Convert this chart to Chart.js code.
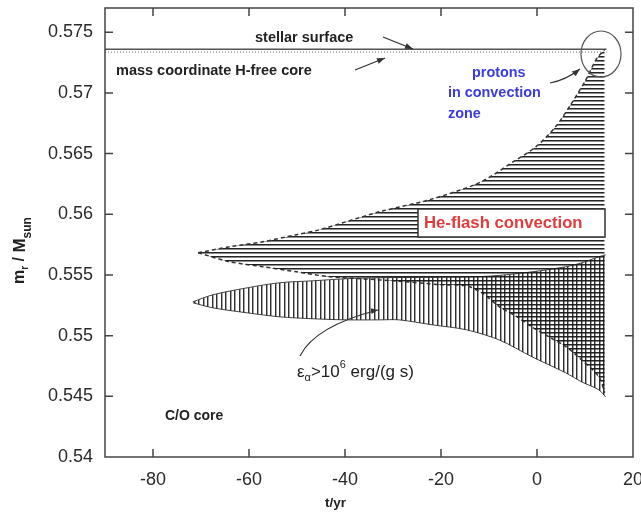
<!DOCTYPE html>
<html>
<head>
<meta charset="utf-8">
<script src="https://cdn.jsdelivr.net/npm/chart.js@4.4.0/dist/chart.umd.min.js"></script>
<style>html,body{margin:0;padding:0;background:#fff}canvas{display:block}</style>
</head>
<body>
<canvas id="c" width="641" height="514"></canvas>
<script>
// He-flash convection zone vs. time, hatched regions drawn as filled line pairs.
const FONT = "'Liberation Sans', Arial, Helvetica, sans-serif";

// tick values
const tTicks = [-80, -60, -40, -20, 0, 20];
const mTicks = [0.54, 0.545, 0.55, 0.555, 0.56, 0.565, 0.57, 0.575];

// He-flash convection zone: upper and lower boundary
const tHeTop = [-70.6, -64, -57.1, -50.1, -45.3, -32.8, -22.4, -12.0, -5.2, -0.2, 3.9, 7.3, 10.2, 12.3, 13.5, 14.1];
const mHeTop = [0.55683, 0.55733, 0.55774, 0.55832, 0.55873, 0.56021, 0.5612, 0.56261, 0.56426, 0.56558, 0.56723, 0.56921, 0.5711, 0.57275, 0.57333, 0.57358];
const tHeBot = [-70.6, -64, -57.1, -50.1, -43.2, -36.3, -29.3, -20, -14.7, -11.4, -7.9, -4.4, -1.0, 2.5, 6.0, 9.3, 12.9, 14.1];
const mHeBot = [0.55683, 0.55609, 0.55568, 0.55526, 0.55485, 0.55468, 0.5545, 0.5542, 0.5541, 0.5535, 0.5524, 0.5516, 0.5507, 0.5499, 0.5491, 0.548, 0.5466, 0.5453];

// region with eps_alpha > 1e6 erg/(g s)
const tEpsTop = [-71.7, -67.5, -60.4, -53.6, -46.7, -39.7, -32.8, -20, -10, -1.0, 6.0, 9.3, 12.9, 14.3];
const mEpsTop = [0.55279, 0.55337, 0.55394, 0.55436, 0.55452, 0.55469, 0.55477, 0.55482, 0.5549, 0.55526, 0.55568, 0.556, 0.5565, 0.55667];
const tEpsBot = [-71.7, -67.5, -60.4, -53.6, -46.7, -39.7, -32.8, -28.7, -21.8, -14.7, -7.9, -1.0, 6.0, 9.3, 12.9, 14.3];
const mEpsBot = [0.55271, 0.55229, 0.55188, 0.55155, 0.55139, 0.5513, 0.5513, 0.5513, 0.55089, 0.55048, 0.54965, 0.54825, 0.54693, 0.54619, 0.54553, 0.54495];

// stellar surface and H-free core mass coordinate
const tSurface = [-90, 14.5];
const mSurface = [0.5736, 0.5736];
const mHfree = [0.57337, 0.57337];

const pts = (xs, ys) => xs.map((x, i) => ({ x, y: ys[i] }));

const canvas = document.getElementById("c");
const mainCtx = canvas.getContext("2d");

function hatch(kind) {
  const c = document.createElement("canvas");
  const g = c.getContext("2d");
  if (kind === "h") {
    c.width = 8; c.height = 4;
    g.fillStyle = "rgba(25,25,25,0.95)"; g.fillRect(0, 0, 8, 1);
    g.fillStyle = "rgba(25,25,25,0.5)"; g.fillRect(0, 1, 8, 1);
  } else {
    c.width = 9; c.height = 8;
    g.fillStyle = "rgba(25,25,25,0.9)"; g.fillRect(0, 0, 1, 8); g.fillRect(5, 0, 1, 8);
    g.fillStyle = "rgba(25,25,25,0.4)"; g.fillRect(1, 0, 1, 8); g.fillRect(6, 0, 1, 8);
  }
  return mainCtx.createPattern(c, "repeat");
}

function arrowHead(ctx, x0, y0, x1, y1, len, half) {
  const a = Math.atan2(y1 - y0, x1 - x0);
  ctx.beginPath();
  ctx.moveTo(x1, y1);
  ctx.lineTo(x1 - len * Math.cos(a) + half * Math.sin(a), y1 - len * Math.sin(a) - half * Math.cos(a));
  ctx.lineTo(x1 - len * Math.cos(a) - half * Math.sin(a), y1 - len * Math.sin(a) + half * Math.cos(a));
  ctx.closePath();
  ctx.fill();
}

const decor = {
  id: "decor",
  afterDatasetsDraw(chart) {
    const ctx = chart.ctx;
    ctx.save();
    ctx.textBaseline = "middle";
    ctx.textAlign = "left";
    ctx.fillStyle = "#222";
    ctx.font = "bold 14.5px " + FONT;
    ctx.fillText("stellar surface", 255, 38);
    ctx.fillText("mass coordinate H-free core", 116, 71);
    ctx.font = "bold 14px " + FONT;
    ctx.fillText("C/O core", 165, 416);

    // arrows
    ctx.strokeStyle = "#333"; ctx.fillStyle = "#333"; ctx.lineWidth = 1.2;
    ctx.beginPath(); ctx.moveTo(383, 37); ctx.lineTo(413, 49); ctx.stroke();
    arrowHead(ctx, 383, 37, 413, 49, 8, 3);
    ctx.beginPath(); ctx.moveTo(355, 70); ctx.lineTo(385, 58); ctx.stroke();
    arrowHead(ctx, 355, 70, 385, 58, 8, 3);
    ctx.beginPath(); ctx.moveTo(550, 83); ctx.quadraticCurveTo(566, 80, 580, 69); ctx.stroke();
    arrowHead(ctx, 566, 80, 580, 69, 8, 3);
    ctx.beginPath(); ctx.moveTo(300, 356); ctx.quadraticCurveTo(315, 326, 378, 310); ctx.stroke();
    arrowHead(ctx, 330, 318, 378, 310, 7, 3);

    // circle round the protons entry point
    ctx.strokeStyle = "#555";
    ctx.beginPath(); ctx.ellipse(601, 54, 20, 23, 0, 0, Math.PI * 2); ctx.stroke();

    // protons label
    ctx.fillStyle = "#3b3be0";
    ctx.font = "bold 14.4px " + FONT;
    ctx.fillText("protons", 472, 73);
    ctx.fillText("in convection", 448, 93);
    ctx.fillText("zone", 448, 114);

    // He-flash convection box
    ctx.fillStyle = "#fff";
    ctx.fillRect(418, 209, 187, 28);
    ctx.strokeStyle = "#333"; ctx.lineWidth = 1.5;
    ctx.strokeRect(418, 209, 187, 28);
    ctx.fillStyle = "#e23b3b";
    ctx.font = "bold 16.7px " + FONT;
    ctx.fillText("He-flash convection", 424, 223);

    // eps label
    ctx.fillStyle = "#222";
    ctx.textBaseline = "alphabetic";
    let x = 297;
    const base = 377;
    const piece = (s, size, dy) => {
      ctx.font = size + "px " + FONT;
      ctx.fillText(s, x, base + dy);
      x += ctx.measureText(s).width;
    };
    piece("\u03b5", 17, 0);
    piece("\u03b1", 11, 4);
    piece(">10", 17, 0);
    piece("6", 11, -9);
    piece(" erg/(g s)", 17, 0);

    // axis titles
    ctx.font = "bold 13.5px " + FONT;
    ctx.textBaseline = "middle";
    ctx.fillText("t/yr", 325, 503);

    ctx.save();
    ctx.translate(20, 284);
    ctx.rotate(-Math.PI / 2);
    x = 0;
    const yp = (s, size, dy) => {
      ctx.font = "bold " + size + "px " + FONT;
      ctx.fillText(s, x, dy);
      x += ctx.measureText(s).width;
    };
    yp("m", 16, 0);
    yp("r", 10, 5);
    yp(" / ", 16, 0);
    yp("M", 17, 0);
    yp("sun", 12, 8);
    ctx.restore();
    ctx.restore();
  },
  afterDraw(chart) {
    const { ctx, chartArea: a, scales } = chart;
    ctx.save();
    ctx.strokeStyle = "#444";
    ctx.lineWidth = 1.5;
    ctx.strokeRect(a.left, a.top, a.right - a.left, a.bottom - a.top);
    ctx.beginPath();
    tTicks.forEach((v) => {
      const px = scales.x.getPixelForValue(v);
      if (px <= a.left + 1 || px >= a.right - 1) return;
      ctx.moveTo(px, a.bottom); ctx.lineTo(px, a.bottom - 8);
      ctx.moveTo(px, a.top); ctx.lineTo(px, a.top + 8);
    });
    mTicks.forEach((v) => {
      const py = scales.y.getPixelForValue(v);
      if (py <= a.top + 1 || py >= a.bottom - 1) return;
      ctx.moveTo(a.left, py); ctx.lineTo(a.left + 8, py);
      ctx.moveTo(a.right, py); ctx.lineTo(a.right - 8, py);
    });
    ctx.stroke();
    ctx.restore();
  },
};

const hPat = hatch("h");
const vPat = hatch("v");

new Chart(canvas, {
  type: "line",
  data: {
    datasets: [
      { data: pts(tHeTop, mHeTop), fill: "+1", backgroundColor: hPat, borderColor: "#333", borderWidth: 1.5, borderDash: [4, 3], tension: 0.3 },
      { data: pts(tHeBot, mHeBot), fill: false, borderColor: "#333", borderWidth: 1.5, borderDash: [4, 3], tension: 0.3 },
      { data: pts(tEpsTop, mEpsTop), fill: "+1", backgroundColor: vPat, borderColor: "#444", borderWidth: 1, tension: 0.3 },
      { data: pts(tEpsBot, mEpsBot), fill: false, borderColor: "#444", borderWidth: 1, tension: 0.3 },
      { data: pts(tSurface, mSurface), fill: false, borderColor: "#555", borderWidth: 1.5 },
      { data: pts(tSurface, mHfree), fill: false, borderColor: "#888", borderWidth: 1.2, borderDash: [1, 2] },
    ],
  },
  options: {
    responsive: false,
    devicePixelRatio: 1,
    animation: false,
    layout: { padding: { top: 8, right: 8, left: 0, bottom: 0 } },
    elements: { point: { radius: 0 } },
    plugins: { legend: { display: false }, tooltip: { enabled: false } },
    scales: {
      x: {
        type: "linear",
        min: -90,
        max: 20,
        grid: { display: false, drawTicks: false },
        border: { display: false },
        ticks: { font: { size: 18, family: FONT }, color: "#2a2a2a", padding: 12, maxRotation: 0 },
        afterBuildTicks: (s) => { s.ticks = tTicks.map((v) => ({ value: v })); },
        afterFit: (s) => { s.height = 57; s.paddingLeft = 0; s.paddingRight = 0; },
      },
      y: {
        type: "linear",
        min: 0.54,
        max: 0.577,
        grid: { display: false, drawTicks: false },
        border: { display: false },
        ticks: { font: { size: 18, family: FONT }, color: "#2a2a2a", padding: 12, callback: (v) => String(+v.toFixed(3)) },
        afterBuildTicks: (s) => { s.ticks = mTicks.map((v) => ({ value: v })); },
        afterFit: (s) => { s.width = 105; s.paddingTop = 0; s.paddingBottom = 0; },
      },
    },
  },
  plugins: [decor],
});
</script>
</body>
</html>
